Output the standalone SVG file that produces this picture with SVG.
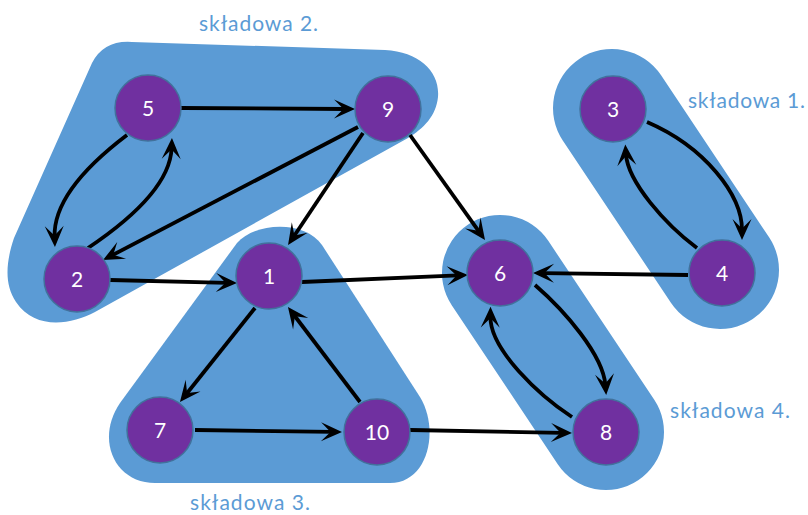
<svg xmlns="http://www.w3.org/2000/svg" width="808" height="515" viewBox="0 0 808 515">
  <style>
    .blob { fill: #5B9BD5; }
    .node circle { fill: #7030A0; stroke: #41719C; stroke-width: 1.5; }
    .node text { fill: #ffffff; font-family: Lato, "Open Sans", "Liberation Sans", sans-serif; font-size: 21px; text-anchor: middle; }
    .label { fill: #5B9BD5; font-family: Lato, "Open Sans", "Liberation Sans", sans-serif; font-size: 21px; }
    .edge { fill: none; stroke: #000000; stroke-width: 3.8; marker-end: url(#arrow); }
  </style>
  <defs>
    <!-- stealth arrowhead; the tip sits 10px beyond the path end -->
    <marker id="arrow" markerUnits="userSpaceOnUse" orient="auto" refX="0" refY="0" markerWidth="40" markerHeight="40" overflow="visible">
      <path d="M10,0 L-11,-9.5 L-1.5,0 L-11,9.5 Z" fill="#000000"/>
    </marker>
  </defs>

  <rect width="808" height="515" fill="#ffffff"/>

  <!-- component regions -->
  <g id="regions">
    <path id="region-2" class="blob" d="M92,63 Q104,40 132,42 L385,50 C420,52 440,72 438,97 C436,116 424,128 408,138 L95,312 C70,325 35,330 16,302 C4,284 6,262 14,238 Z"/>
    <path id="region-3" class="blob" d="M237,243 C255,222 305,220 322,245 L420,397 C440,430 428,483 390,483 L155,483 C115,483 95,440 120,403 Z"/>
    <rect id="region-1" class="blob" x="-156.35" y="-59" width="312.7" height="118" rx="59" transform="translate(666,189) rotate(56.31)"/>
    <rect id="region-4" class="blob" x="-153.55" y="-58" width="307.1" height="116" rx="58" transform="translate(553,352.5) rotate(56.31)"/>
  </g>

  <!-- region captions -->
  <g id="captions">
    <text class="label" x="199" y="31" textLength="119">składowa 2.</text>
    <text class="label" x="688" y="108" textLength="117">składowa 1.</text>
    <text class="label" x="190" y="510" textLength="120">składowa 3.</text>
    <text class="label" x="670" y="418" textLength="120">składowa 4.</text>
  </g>

  <!-- directed edges -->
  <g id="edges">
    <path class="edge" d="M181,108 L345,109"/>
    <path class="edge" d="M127,135 Q53,191 54.6,237"/>
    <path class="edge" d="M88,248 Q170,193 171.6,148"/>
    <path class="edge" d="M358,127 L111.9,255.4"/>
    <path class="edge" d="M363,133 L293.6,236.7"/>
    <path class="edge" d="M410,135 L479.2,231.9"/>
    <path class="edge" d="M110,280 L227,282.8"/>
    <path class="edge" d="M302,282 L458,275.4"/>
    <path class="edge" d="M688,275 L543,273.1"/>
    <path class="edge" d="M647,122 C705,147 742,195 742,230"/>
    <path class="edge" d="M697,248 C665,224 628,182 626,154.5"/>
    <path class="edge" d="M535,285 C565,311 603,355 605.4,385"/>
    <path class="edge" d="M572,417 C540,396 490,350 490.4,316.7"/>
    <path class="edge" d="M255,308 L186.2,394.2"/>
    <path class="edge" d="M360,402 L294,315"/>
    <path class="edge" d="M195,430 L332,431.9"/>
    <path class="edge" d="M410,430 L562,432.8"/>
  </g>

  <!-- nodes -->
  <g id="node-5" class="node"><circle cx="148" cy="108" r="33"/><text x="148" y="115.5">5</text></g>
  <g id="node-9" class="node"><circle cx="388" cy="109" r="33"/><text x="388" y="116.5">9</text></g>
  <g id="node-2" class="node"><circle cx="77" cy="279" r="33"/><text x="77" y="286.5">2</text></g>
  <g id="node-1" class="node"><circle cx="269" cy="276" r="33"/><text x="269" y="283.5">1</text></g>
  <g id="node-3" class="node"><circle cx="613" cy="109" r="33"/><text x="613" y="116.5">3</text></g>
  <g id="node-4" class="node"><circle cx="722" cy="273" r="33"/><text x="722" y="280.5">4</text></g>
  <g id="node-6" class="node"><circle cx="500" cy="273" r="33"/><text x="500" y="280.5">6</text></g>
  <g id="node-7" class="node"><circle cx="160" cy="430" r="33"/><text x="160" y="437.5">7</text></g>
  <g id="node-10" class="node"><circle cx="377" cy="432" r="33"/><text x="377" y="439.5">10</text></g>
  <g id="node-8" class="node"><circle cx="606" cy="432" r="33"/><text x="606" y="439.5">8</text></g>
</svg>
